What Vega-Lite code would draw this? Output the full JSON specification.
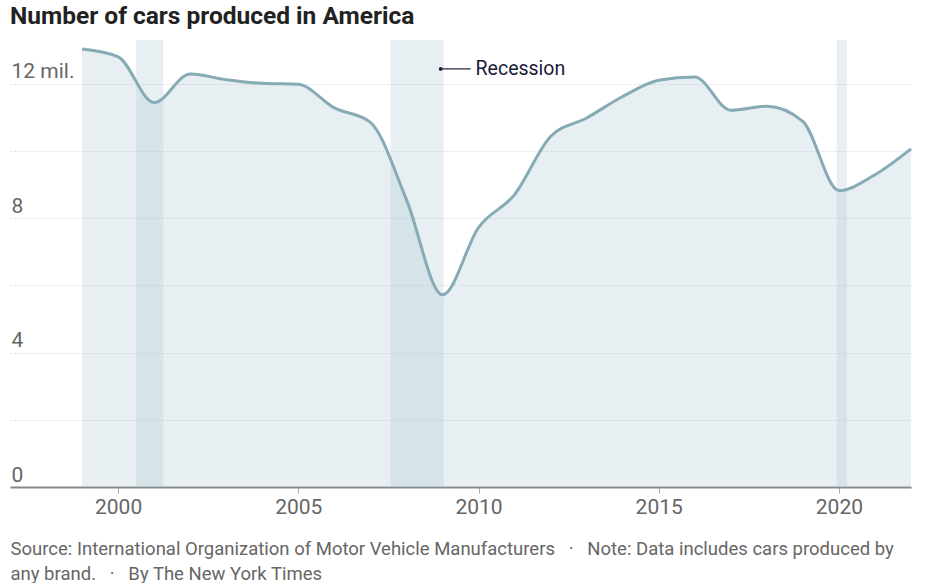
{
  "$schema": "https://vega.github.io/schema/vega-lite/v6.json",
  "autosize": {"type": "fit", "contains": "padding"},
  "width": 927,
  "height": 583,
  "padding": {"left": 10, "right": 10, "top": 3, "bottom": 0},
  "background": "white",
  "title": {
    "text": "Number of cars produced in America",
    "anchor": "start",
    "frame": "group",
    "font": "Roboto",
    "fontSize": 24.5,
    "fontWeight": "bold",
    "color": "#222222",
    "offset": 11
  },
  "config": {
    "view": {"stroke": null},
    "font": "Roboto"
  },
  "datasets": {
    "cars": [
      {"year": 1999, "value": 13.03},
      {"year": 2000, "value": 12.80},
      {"year": 2001, "value": 11.44},
      {"year": 2002, "value": 12.29},
      {"year": 2003, "value": 12.12},
      {"year": 2004, "value": 12.01},
      {"year": 2005, "value": 11.98},
      {"year": 2006, "value": 11.28},
      {"year": 2007, "value": 10.85},
      {"year": 2008, "value": 8.55},
      {"year": 2009, "value": 5.72},
      {"year": 2010, "value": 7.72},
      {"year": 2011, "value": 8.70},
      {"year": 2012, "value": 10.43},
      {"year": 2013, "value": 10.98},
      {"year": 2014, "value": 11.62},
      {"year": 2015, "value": 12.10},
      {"year": 2016, "value": 12.20},
      {"year": 2017, "value": 11.21},
      {"year": 2018, "value": 11.33},
      {"year": 2019, "value": 10.88},
      {"year": 2020, "value": 8.82},
      {"year": 2021, "value": 9.29},
      {"year": 2022, "value": 10.06}
    ],
    "recessions": [
      {"start": 2000.5, "end": 2001.25},
      {"start": 2007.56, "end": 2009.03},
      {"start": 2019.94, "end": 2020.22}
    ],
    "note": [
      {"x": 2008.95, "x2": 2009.78, "y": 12.44, "label": "Recession"}
    ]
  },
  "layer": [
    {
      "data": {"name": "cars"},
      "mark": {"type": "area", "interpolate": "monotone", "color": "#afcad4", "opacity": 0.3},
      "encoding": {
        "x": {
          "field": "year", "type": "quantitative",
          "scale": {"domain": [1997, 2022], "nice": false, "zero": false},
          "axis": {
            "values": [2000, 2005, 2010, 2015, 2020],
            "format": "d",
            "grid": false,
            "domainColor": "#888888",
            "domainWidth": 2,
            "tickColor": "#aaaaaa",
            "tickSize": 6,
            "labelColor": "#666666",
            "labelFontSize": 21,
            "labelPadding": 3,
            "title": ["Source: International Organization of Motor Vehicle Manufacturers \u00a0\u00a0·\u00a0\u00a0 Note: Data includes cars produced by", "any brand. \u00a0\u00a0·\u00a0\u00a0 By The New York Times"],
            "titleAnchor": "start",
            "titleAlign": "left",
            "titleFontSize": 18.5,
            "titleFontWeight": "normal",
            "titleColor": "#666666",
            "titleLineHeight": 25,
            "titlePadding": 22,
            "titleX": 0
          }
        },
        "y": {
          "field": "value", "type": "quantitative",
          "scale": {"domain": [0, 13.3], "nice": false},
          "axis": {
            "values": [0, 2, 4, 6, 8, 10, 12],
            "labelExpr": "datum.value % 4 == 0 ? (datum.value == 12 ? '12 mil.' : datum.label) : ''",
            "title": null,
            "domain": false,
            "ticks": false,
            "grid": true,
            "gridColor": "#dddddd",
            "gridDash": [2, 2],
            "gridWidth": 1,
            "labelAlign": "left",
            "labelBaseline": "alphabetic",
            "labelPadding": -1,
            "labelOffset": -6,
            "labelColor": "#666666",
            "labelFontSize": 21
          }
        }
      }
    },
    {
      "data": {"name": "recessions"},
      "mark": {"type": "rect", "color": "#afcad4", "opacity": 0.3},
      "encoding": {
        "x": {"field": "start", "type": "quantitative"},
        "x2": {"field": "end"}
      }
    },
    {
      "data": {"name": "cars"},
      "mark": {"type": "line", "interpolate": "monotone", "color": "#86abb4", "strokeWidth": 3},
      "encoding": {
        "x": {"field": "year", "type": "quantitative"},
        "y": {"field": "value", "type": "quantitative"}
      }
    },
    {
      "data": {"name": "note"},
      "mark": {"type": "rule", "color": "#1a1a3a", "strokeWidth": 1.2},
      "encoding": {
        "x": {"field": "x", "type": "quantitative"},
        "x2": {"field": "x2"},
        "y": {"field": "y", "type": "quantitative"}
      }
    },
    {
      "data": {"name": "note"},
      "mark": {"type": "point", "filled": true, "color": "#1a1a3a", "size": 14, "opacity": 1},
      "encoding": {
        "x": {"field": "x", "type": "quantitative"},
        "y": {"field": "y", "type": "quantitative"}
      }
    },
    {
      "data": {"name": "note"},
      "mark": {"type": "text", "align": "left", "baseline": "middle", "dx": 5, "fontSize": 19.5, "color": "#1a1a3a", "font": "Roboto"},
      "encoding": {
        "x": {"field": "x2", "type": "quantitative"},
        "y": {"field": "y", "type": "quantitative"},
        "text": {"field": "label"}
      }
    }
  ]
}
